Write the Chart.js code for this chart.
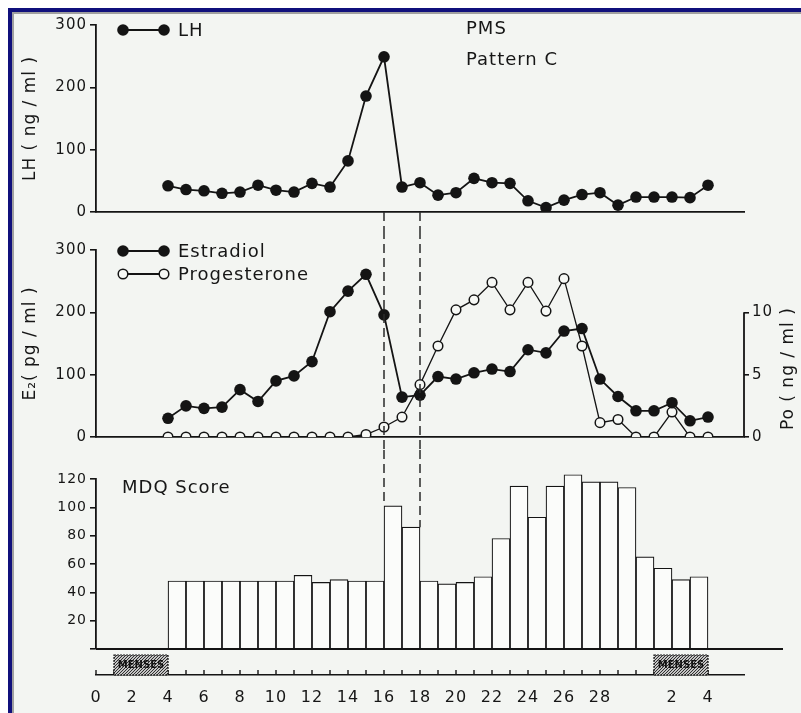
<!DOCTYPE html>
<html>
<head>
<meta charset="utf-8">
<script src="https://cdn.jsdelivr.net/npm/chart.js@4.4.0/dist/chart.umd.min.js"></script>
<style>
  html, body { margin: 0; padding: 0; background: #fff; }
  #page { position: relative; width: 801px; height: 713px; overflow: hidden; }
  #frame { position: absolute; left: 8px; top: 8px; right: 0; bottom: 0;
           background: #f3f5f2; border-top: 4px solid #10107c; border-left: 4px solid #10107c;
           box-shadow: inset 2px 2px 0 #a0a0a0; }
  canvas { position: absolute; left: 0; }
</style>
</head>
<body>
<div id="page">
  <div id="frame"></div>
  <canvas id="lh" width="801" height="230" style="top:0"></canvas>
  <canvas id="hormones" width="801" height="220" style="top:230px"></canvas>
  <canvas id="mdq" width="801" height="263" style="top:450px"></canvas>
</div>
<script>
// days of the cycle that were sampled
const days = [4,5,6,7,8,9,10,11,12,13,14,15,16,17,18,19,20,21,22,23,24,25,26,27,28,29,30,31,32,33,34];
const lhValues = [42,36,34,30,32,43,35,32,46,40,82,186,249,40,47,27,31,54,47,46,18,7,19,28,31,11,24,24,24,23,43];
const estradiolValues = [30,50,46,48,76,57,90,98,121,201,234,261,196,64,67,97,93,103,109,105,140,135,170,174,93,65,42,42,55,26,32];
const progesteroneValues = [0,0,0,0,0,0,0,0,0,0,0,0.2,0.8,1.6,4.2,7.3,10.2,11.0,12.4,10.2,12.4,10.1,12.7,7.3,1.15,1.4,0,0,2.0,0,0];

// MDQ bars, one per day (bar starts at the day)
const mdqDays = [4,5,6,7,8,9,10,11,12,13,14,15,16,17,18,19,20,21,22,23,24,25,26,27,28,29,30,31,32,33];
const mdqValues = [48,48,48,48,48,48,48,52,47,49,48,48,101,86,48,46,47,51,78,115,93,115,123,118,118,114,65,57,49,51];

// bottom ruler
const bottomTickDays = [0,2,4,6,8,10,12,14,16,18,20,22,24,26,28,32,34];
const bottomTickText = ['0','2','4','6','8','10','12','14','16','18','20','22','24','26','28','2','4'];
const mensesSpans = [[1,4],[31,34]];
const markerDays = [16, 18];

Chart.defaults.font.family = '"DejaVu Sans", sans-serif';
Chart.defaults.color = '#161616';
Chart.defaults.animation = false;

const INK = '#141414';
const X_MIN = 0, X_MAX = 36;

function fixWidth(w) { return s => { s.width = w; }; }
function fixHeight(h) { return s => { s.height = h; }; }

function leftAxis(max, step, title, size) {
  return {
    min: 0, max: max,
    ticks: { stepSize: step, padding: 3, font: { size: size || 15 } },
    grid: { drawOnChartArea: false, tickLength: 6, color: INK, lineWidth: 1.6 },
    border: { color: INK, width: 1.8 },
    title: { display: !!title, text: title, font: { size: 17 }, padding: { top: 20, bottom: 0 } },
    afterFit: fixWidth(96)
  };
}

function hiddenX(h) {
  return {
    type: 'linear', min: X_MIN, max: X_MAX,
    ticks: { display: false, stepSize: 1 },
    grid: { display: false, drawTicks: false },
    border: { color: INK, width: 1.8 },
    afterFit: fixHeight(h)
  };
}

function dashed(chart, yTop, yEnd) {
  const ctx = chart.ctx, xs = chart.scales.x;
  ctx.save();
  ctx.strokeStyle = '#2a2a2a';
  ctx.lineWidth = 1.5;
  ctx.setLineDash([9, 5]);
  markerDays.forEach(d => {
    const x = xs.getPixelForValue(d);
    ctx.beginPath();
    ctx.moveTo(x, yTop);
    ctx.lineTo(x, yEnd(d));
    ctx.stroke();
  });
  ctx.restore();
}

function legendRow(ctx, y, filled, text) {
  ctx.save();
  ctx.strokeStyle = INK;
  ctx.lineWidth = 1.8;
  ctx.beginPath(); ctx.moveTo(123, y); ctx.lineTo(164, y); ctx.stroke();
  [123, 164].forEach(x => {
    ctx.beginPath();
    ctx.arc(x, y, filled ? 5.8 : 4.8, 0, Math.PI * 2);
    ctx.fillStyle = filled ? INK : '#f6f8f5';
    ctx.fill();
    if (!filled) { ctx.lineWidth = 1.5; ctx.stroke(); }
  });
  ctx.fillStyle = '#161616';
  ctx.font = '18px "DejaVu Sans"';
  ctx.letterSpacing = '1px';
  ctx.textBaseline = 'middle';
  ctx.fillText(text, 178, y + 1);
  ctx.restore();
}

const spacing = {
  id: 'spacing',
  beforeDraw(chart) { chart.ctx.letterSpacing = '1px'; }
};

// LH panel
new Chart(document.getElementById('lh'), {
  type: 'line',
  data: {
    datasets: [{
      label: 'LH',
      data: days.map((d, i) => ({ x: d, y: lhValues[i] })),
      borderColor: INK, borderWidth: 1.8,
      pointRadius: 5.8, pointBackgroundColor: INK, pointBorderWidth: 0
    }]
  },
  options: {
    responsive: false,
    layout: { padding: { top: 25, bottom: 18, left: 0, right: 57 } },
    plugins: { legend: { display: false }, tooltip: { enabled: false } },
    scales: {
      x: hiddenX(0),
      y: leftAxis(300, 100, 'LH ( ng / ml )')
    }
  },
  plugins: [spacing, {
    id: 'lhExtras',
    afterDraw(chart) {
      const ctx = chart.ctx;
      legendRow(ctx, 30, true, 'LH');
      ctx.save();
      ctx.fillStyle = '#161616';
      ctx.font = '18px "DejaVu Sans"';
      ctx.letterSpacing = '1px';
      ctx.textBaseline = 'middle';
      ctx.fillText('PMS', 466, 29);
      ctx.fillText('Pattern C', 466, 60);
      ctx.restore();
      dashed(chart, chart.chartArea.bottom, () => chart.height);
    }
  }]
});

// Estradiol / progesterone panel
new Chart(document.getElementById('hormones'), {
  type: 'line',
  data: {
    datasets: [{
      label: 'Estradiol',
      yAxisID: 'y',
      data: days.map((d, i) => ({ x: d, y: estradiolValues[i] })),
      borderColor: INK, borderWidth: 1.8,
      pointRadius: 5.8, pointBackgroundColor: INK, pointBorderWidth: 0
    }, {
      label: 'Progesterone',
      yAxisID: 'y1',
      data: days.map((d, i) => ({ x: d, y: progesteroneValues[i] })),
      borderColor: INK, borderWidth: 1.3,
      pointRadius: 4.8, pointBackgroundColor: '#f6f8f5', pointBorderColor: INK, pointBorderWidth: 1.5
    }]
  },
  options: {
    responsive: false,
    layout: { padding: { top: 20, bottom: 13, left: 0, right: 0 } },
    plugins: { legend: { display: false }, tooltip: { enabled: false } },
    scales: {
      x: hiddenX(0),
      y: leftAxis(300, 100, 'E\u2082( pg / ml )'),
      y1: {
        position: 'right', min: 0, max: 15,
        ticks: { stepSize: 5, padding: 3, font: { size: 15 }, callback: v => (v <= 10 ? v : '') },
        grid: { drawOnChartArea: false, tickLength: 5, lineWidth: 1.6,
                color: c => (c.tick && c.tick.value <= 10 ? INK : 'rgba(0,0,0,0)') },
        border: { display: false },
        afterFit: fixWidth(57)
      }
    }
  },
  plugins: [spacing, {
    id: 'hormoneExtras',
    afterDraw(chart) {
      const ctx = chart.ctx, po = chart.scales.y1;
      legendRow(ctx, 21, true, 'Estradiol');
      legendRow(ctx, 44, false, 'Progesterone');
      // right axis line only spans 0..10
      ctx.save();
      ctx.strokeStyle = INK;
      ctx.lineWidth = 1.8;
      ctx.beginPath();
      ctx.moveTo(po.left, po.getPixelForValue(0));
      ctx.lineTo(po.left, po.getPixelForValue(10));
      ctx.stroke();
      ctx.translate(789, po.getPixelForValue(5) - 6);
      ctx.rotate(-Math.PI / 2);
      ctx.fillStyle = '#161616';
      ctx.font = '17px "DejaVu Sans"';
      ctx.letterSpacing = '1px';
      ctx.textAlign = 'center';
      ctx.textBaseline = 'middle';
      ctx.fillText('Po ( ng / ml )', 0, 0);
      ctx.restore();
      dashed(chart, 0, () => chart.height);
    }
  }]
});

// MDQ score panel
new Chart(document.getElementById('mdq'), {
  type: 'bar',
  data: {
    datasets: [{
      label: 'MDQ Score',
      data: mdqDays.map((d, i) => ({ x: d + 0.5, y: mdqValues[i] })),
      backgroundColor: '#fbfcfa', borderColor: INK, borderWidth: 1.2,
      barPercentage: 1, categoryPercentage: 1,
      clip: false
    }]
  },
  options: {
    responsive: false,
    layout: { padding: { top: 29, bottom: 0, left: 0, right: 57 } },
    plugins: { legend: { display: false }, tooltip: { enabled: false } },
    scales: {
      x: Object.assign(hiddenX(26), { offset: false, border: { display: false } }),
      xb: {
        type: 'linear', position: 'bottom', min: X_MIN, max: X_MAX, offset: false,
        ticks: {
          stepSize: 1, autoSkip: false, maxRotation: 0, padding: 13, font: { size: 16 },
          callback: v => { const k = bottomTickDays.indexOf(v); return k >= 0 ? bottomTickText[k] : ''; }
        },
        grid: { display: false, drawTicks: false },
        border: { color: INK, width: 1.6 },
        afterFit: fixHeight(38)
      },
      y: Object.assign(leftAxis(120, 20, '', 14), {
        ticks: { stepSize: 20, padding: 3, font: { size: 14 }, callback: v => (v === 0 ? '' : v) }
      })
    }
  },
  plugins: [spacing, {
    id: 'mdqExtras',
    afterDraw(chart) {
      const ctx = chart.ctx, ys = chart.scales.y, xb = chart.scales.xb;
      const base = ys.getPixelForValue(0);
      ctx.save();
      ctx.strokeStyle = INK;
      ctx.lineWidth = 1.8;
      ctx.beginPath(); ctx.moveTo(chart.chartArea.left, base); ctx.lineTo(783, base); ctx.stroke();

      // ruler ticks pointing up
      const ry = xb.top;
      ctx.lineWidth = 1.4;
      for (let d = 0; d <= 34; d++) {
        const x = xb.getPixelForValue(d);
        ctx.beginPath(); ctx.moveTo(x, ry); ctx.lineTo(x, ry - 5); ctx.stroke();
      }

      // menses boxes
      const tile = document.createElement('canvas');
      tile.width = 3; tile.height = 3;
      const tc = tile.getContext('2d');
      tc.fillStyle = '#c4c4c4'; tc.fillRect(0, 0, 3, 3);
      tc.fillStyle = '#2e2e2e'; tc.fillRect(0, 0, 1, 1); tc.fillRect(2, 1, 1, 1); tc.fillRect(1, 2, 1, 1);
      const pat = ctx.createPattern(tile, 'repeat');
      mensesSpans.forEach(([a, b]) => {
        const x0 = xb.getPixelForValue(a), x1 = xb.getPixelForValue(b);
        ctx.fillStyle = pat;
        ctx.fillRect(x0, ry - 20, x1 - x0, 20);
        ctx.setLineDash([2, 1]);
        ctx.lineWidth = 1.2;
        ctx.strokeRect(x0, ry - 20, x1 - x0, 20);
        ctx.setLineDash([]);
        ctx.fillStyle = '#111';
        ctx.font = 'bold 10px "DejaVu Sans"';
        ctx.letterSpacing = '0px';
        ctx.textAlign = 'center';
        ctx.textBaseline = 'middle';
        ctx.fillText('MENSES', (x0 + x1) / 2, ry - 10);
      });

      ctx.fillStyle = '#161616';
      ctx.font = '18px "DejaVu Sans"';
      ctx.letterSpacing = '1px';
      ctx.textAlign = 'left';
      ctx.textBaseline = 'middle';
      ctx.fillText('MDQ Score', 122, 38);
      ctx.restore();

      // dashed markers end on the taller neighbouring bar
      dashed(chart, 0, d => {
        const i = mdqDays.indexOf(d), j = mdqDays.indexOf(d - 1);
        const v = Math.max(i >= 0 ? mdqValues[i] : 0, j >= 0 ? mdqValues[j] : 0);
        return ys.getPixelForValue(v);
      });
    }
  }]
});
</script>
</body>
</html>
